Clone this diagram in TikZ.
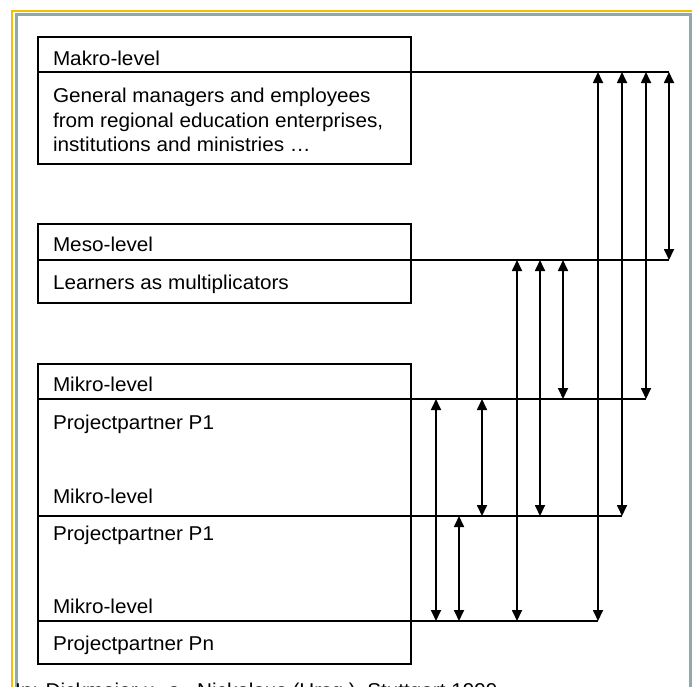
\documentclass[tikz,border=0pt]{standalone}
\usepackage{fontspec}
\setmainfont{Liberation Sans}[FakeStretch=1.035]
\usetikzlibrary{arrows.meta}
\definecolor{frameyellow}{HTML}{F5BE00}
\definecolor{framegray}{HTML}{90A8A8}
\begin{document}
\begin{tikzpicture}[x=1pt,y=-1pt,
  lbl/.style={anchor=base west, inner sep=0pt, outer sep=0pt, font=\fontsize{20}{24.5}\selectfont},
  part/.style={draw, line width=1.6pt, rectangle, anchor=north west, inner sep=0pt, outer sep=0pt, minimum width=373pt},
  conn/.style={line width=1.6pt},
  dbl/.style={line width=1.7pt, {Triangle[width=10pt,length=11pt]}-{Triangle[width=10pt,length=11pt]}}]
\useasboundingbox (0,0) rectangle (692,686);
\clip (0,0) rectangle (692,686);
% frame
\draw[frameyellow, line width=1.6pt] (12,690) -- (12,11) -- (695,11);
\draw[framegray, line width=3pt] (16.5,690) -- (16.5,14.5) -- (690.5,14.5) -- (690.5,690);
% boxes
\node[part, minimum height=35pt] (makroHead) at (38,37) {};
\node[part, minimum height=92pt] (makroBody) at (38,72) {};
\node[part, minimum height=36pt] (mesoHead) at (38,224) {};
\node[part, minimum height=43pt] (mesoBody) at (38,260) {};
\node[part, minimum height=35pt] (mikroHead) at (38,364) {};
\node[part, minimum height=117pt] (mikroA) at (38,399) {};
\node[part, minimum height=105pt] (mikroB) at (38,516) {};
\node[part, minimum height=43pt] (mikroC) at (38,621) {};
% texts
\node[lbl] (t1) at (53,65) {Makro-level};
\node[lbl] (t2a) at (53,102.5) {General managers and employees};
\node[lbl] (t2b) at (53,127) {from regional education enterprises,};
\node[lbl] (t2c) at (53,151.5) {institutions and ministries \dots};
\node[lbl] (t3) at (53,251.5) {Meso-level};
\node[lbl] (t4) at (53,289) {Learners as multiplicators};
\node[lbl] (t5) at (53,391.5) {Mikro-level};
\node[lbl] (t6) at (53,429) {Projectpartner P1};
\node[lbl] (t7) at (53,503) {Mikro-level};
\node[lbl] (t8) at (53,540) {Projectpartner P1};
\node[lbl] (t9) at (53,613) {Mikro-level};
\node[lbl] (t10) at (53,650.5) {Projectpartner Pn};
\node[lbl] (src) at (15,697) {In: Dickmeier u. a., Nickolaus (Hrsg.), Stuttgart 1999};
% line ends
\coordinate (e0) at (669,72);
\coordinate (e1) at (669,260);
\coordinate (e2) at (646,399);
\coordinate (e3) at (622,516);
\coordinate (e4) at (598,621);
% columns
\coordinate (c669) at (669,0);
\coordinate (c646) at (646,0);
\coordinate (c622) at (622,0);
\coordinate (c598) at (598,0);
\coordinate (c563) at (563,0);
\coordinate (c540) at (540,0);
\coordinate (c517) at (517,0);
\coordinate (c482) at (482,0);
\coordinate (c459) at (459,0);
\coordinate (c436) at (436,0);
% horizontal lines
\draw[conn] (makroHead.south east) -- (e0);
\draw[conn] (mesoHead.south east) -- (e1);
\draw[conn] (mikroHead.south east) -- (e2);
\draw[conn] (mikroA.south east) -- (e3);
\draw[conn] (mikroB.south east) -- (e4);
% arrows
\draw[dbl] (e0 -| c669) -- (e1 -| c669);
\draw[dbl] (e0 -| c646) -- (e2 -| c646);
\draw[dbl] (e0 -| c622) -- (e3 -| c622);
\draw[dbl] (e0 -| c598) -- (e4 -| c598);
\draw[dbl] (e1 -| c563) -- (e2 -| c563);
\draw[dbl] (e1 -| c540) -- (e3 -| c540);
\draw[dbl] (e1 -| c517) -- (e4 -| c517);
\draw[dbl] (e2 -| c482) -- (e3 -| c482);
\draw[dbl] (e2 -| c436) -- (e4 -| c436);
\draw[dbl] (e3 -| c459) -- (e4 -| c459);
\end{tikzpicture}
\end{document}
